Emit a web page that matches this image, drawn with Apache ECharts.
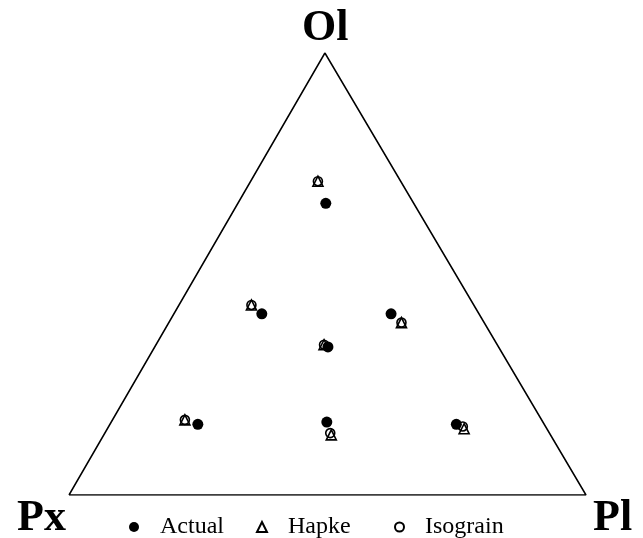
<!DOCTYPE html>
<html>
<head>
<meta charset="utf-8">
<script src="https://cdn.jsdelivr.net/npm/echarts@6/dist/echarts.min.js"></script>
<style>
  html, body { margin: 0; padding: 0; background: #fff; }
  #chart { width: 643px; height: 538px; }
</style>
</head>
<body>
<div id="chart"></div>
<script>
// Ternary compositions (fractions of Ol, Px, Pl) for each sample
const actualOl = [0.66, 0.41, 0.41, 0.335, 0.16, 0.165, 0.16];
const actualPx = [0.17, 0.42, 0.17, 0.33, 0.67, 0.418, 0.17];
const actualPl = [0.17, 0.17, 0.42, 0.335, 0.17, 0.417, 0.67];

const hapkeOl = [0.71, 0.43, 0.39, 0.34, 0.17, 0.136, 0.15];
const hapkePx = [0.16, 0.43, 0.16, 0.335, 0.69, 0.424, 0.16];
const hapkePl = [0.13, 0.14, 0.45, 0.325, 0.14, 0.44, 0.69];

const isoOl = [0.71, 0.43, 0.39, 0.34, 0.17, 0.14, 0.155];
const isoPx = [0.16, 0.43, 0.16, 0.335, 0.69, 0.424, 0.16];
const isoPl = [0.13, 0.14, 0.45, 0.325, 0.14, 0.436, 0.685];

// Triangle corners: Px, Pl, Ol (closed back to Px)
const cornerOl = [0, 0, 1, 0];
const cornerPx = [1, 0, 0, 1];
const cornerPl = [0, 1, 0, 0];

const apexX = 0.495; // horizontal position of the Ol apex on the base

function toXY(ol, px, pl) {
  return ol.map((o, i) => {
    const s = o + px[i] + pl[i];
    const a = o / s, c = pl[i] / s;
    return [c + a * apexX, a];
  });
}

const chart = echarts.init(document.getElementById('chart'), null, { renderer: 'canvas' });
const serif = '"Liberation Serif", "Times New Roman", serif';
const legendText = { fontFamily: serif, fontSize: 24, color: '#000', padding: [0, 0, 0, 16] };

chart.setOption({
  animation: false,
  backgroundColor: '#fff',
  grid: { left: 69, right: 57, top: 53, bottom: 43 },
  xAxis: { type: 'value', min: 0, max: 1, show: false },
  yAxis: { type: 'value', min: 0, max: 1, show: false },
  legend: [
    {
      left: 124, top: 510, itemWidth: 10, itemHeight: 10, itemGap: 32,
      textStyle: legendText,
      data: [{ name: 'Actual', icon: 'circle' }, { name: 'Hapke', icon: 'triangle' }]
    },
    {
      left: 389, top: 510, itemWidth: 9, itemHeight: 9,
      textStyle: legendText,
      data: [{ name: 'Isograin', icon: 'circle' }]
    }
  ],
  graphic: [
    { type: 'text', left: 302, top: 7, style: { text: 'Ol', font: 'bold 44px ' + serif, fill: '#000' } },
    { type: 'text', left: 17, top: 497, style: { text: 'Px', font: 'bold 44px ' + serif, fill: '#000' } },
    { type: 'text', left: 593, top: 497, style: { text: 'Pl', font: 'bold 44px ' + serif, fill: '#000' } }
  ],
  series: [
    {
      type: 'line',
      data: toXY(cornerOl, cornerPx, cornerPl),
      symbol: 'none',
      lineStyle: { color: '#000', width: 1.5 },
      silent: true
    },
    {
      name: 'Actual',
      type: 'scatter',
      data: toXY(actualOl, actualPx, actualPl),
      symbol: 'circle',
      symbolSize: 11,
      itemStyle: { color: '#000', opacity: 1 }
    },
    {
      name: 'Hapke',
      type: 'scatter',
      data: toXY(hapkeOl, hapkePx, hapkePl),
      symbol: 'triangle',
      symbolSize: 10,
      itemStyle: { color: 'rgba(255,255,255,0)', borderColor: '#000', borderWidth: 1.6, opacity: 1 }
    },
    {
      name: 'Isograin',
      type: 'scatter',
      data: toXY(isoOl, isoPx, isoPl),
      symbol: 'circle',
      symbolSize: 9,
      itemStyle: { color: 'rgba(255,255,255,0)', borderColor: '#000', borderWidth: 1.6, opacity: 1 }
    }
  ]
});
</script>
</body>
</html>
